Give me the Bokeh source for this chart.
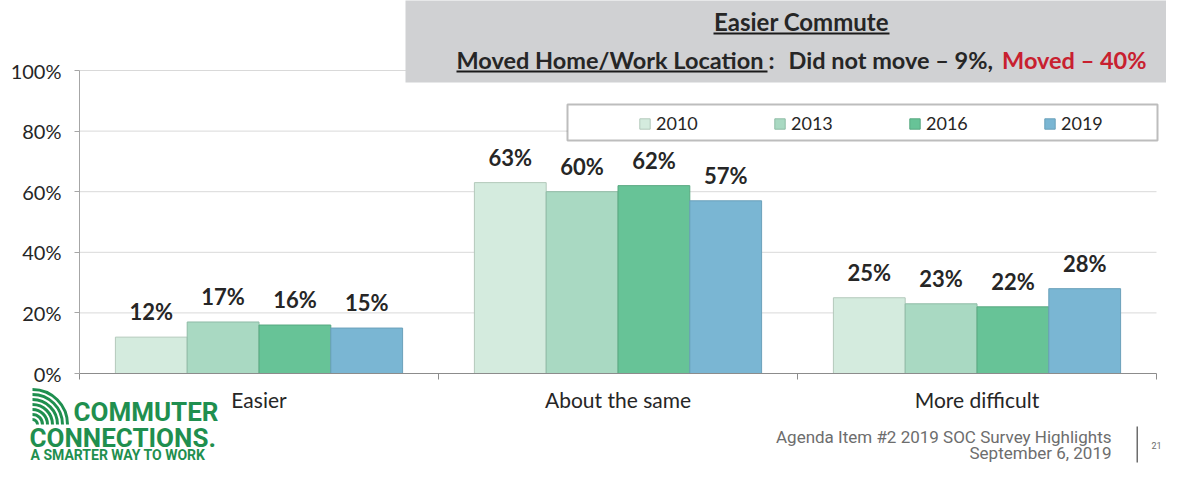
from bokeh.plotting import figure
from bokeh.models import (Range1d, ColumnDataSource, Label, BoxAnnotation, Legend, LegendItem,
                          FixedTicker, LinearAxis)
from bokeh.core.properties import value
from bokeh.embed import file_html
from bokeh.resources import INLINE

# ---------------- data ----------------
categories = ["Easier", "About the same", "More difficult"]
years = ["2010", "2013", "2016", "2019"]
v2010 = [12, 63, 25]
v2013 = [17, 60, 23]
v2016 = [16, 62, 22]
v2019 = [15, 57, 28]
series = [v2010, v2013, v2016, v2019]
colors = ["#d4ebde", "#a9d9c2", "#67c397", "#7ab6d3"]
edges = ["#b3c9bb", "#8fbca6", "#58a880", "#6aa0ba"]
yticks = [0, 20, 40, 60, 80, 100]
ytick_labels = ["0%", "20%", "40%", "60%", "80%", "100%"]

title_line1 = "Easier Commute"
title_a = "Moved Home/Work Location"
title_colon = ":"
title_b = "Did not move \u2013 9%,"
title_c = "Moved \u2013 40%"
logo1 = "COMMUTER"
logo2 = "CONNECTIONS."
logo3 = "A SMARTER WAY TO WORK"
footer1 = "Agenda Item #2 2019 SOC Survey Highlights"
footer2 = "September 6, 2019"
page_no = "21"

FONT = "Lato"
INK = "#262626"

# ---------------- layout constants (pixels) ----------------
W, H = 1166, 464
X0, XW = 79, 359.0      # pixel of first category edge, pixels per category
Y0, YS = 373, 3.03      # pixel of 0 %, pixels per percent

n = len(categories)
p = figure(width=W, height=H, output_backend="svg", toolbar_location=None,
           x_range=Range1d(-X0 / XW, (W - X0) / XW),
           y_range=Range1d(-(H - Y0) / YS, Y0 / YS),
           x_axis_location=None, y_axis_location=None, min_border=0)
p.outline_line_color = None
p.background_fill_color = "white"
p.border_fill_color = "white"
p.grid.visible = False

# grid lines
p.segment(x0=[0] * len(yticks[1:]), x1=[n] * len(yticks[1:]), y0=yticks[1:], y1=yticks[1:],
          line_color="#d9d9d9", line_width=1)

# axes
yax = LinearAxis(fixed_location=0, ticker=FixedTicker(ticks=yticks), bounds=(0, 100))
yax.major_label_overrides = {t: l for t, l in zip(yticks, ytick_labels)}
yax.axis_line_color = "#a6a6a6"
yax.major_tick_line_color = "#a6a6a6"
yax.major_tick_out = 5
yax.major_tick_in = 0
yax.minor_tick_line_color = None
yax.major_label_standoff = 13
yax.major_label_text_font = FONT
yax.major_label_text_font_size = "20px"
yax.major_label_text_color = INK
p.add_layout(yax, "left")

centers = [i + 0.5 for i in range(n)]
xax = LinearAxis(fixed_location=0, bounds=(0, n),
                 ticker=FixedTicker(ticks=centers, minor_ticks=list(range(n + 1))))
xax.major_label_overrides = {c: cat for c, cat in zip(centers, categories)}
xax.axis_line_color = "#8c8c8c"
xax.major_tick_line_color = None
xax.minor_tick_line_color = "#8c8c8c"
xax.minor_tick_out = 6
xax.minor_tick_in = 0
xax.major_label_standoff = 7
xax.major_label_text_font = FONT
xax.major_label_text_font_size = "21px"
xax.major_label_text_color = INK
p.add_layout(xax, "below")

# bars and value labels
offsets = [-0.3, -0.1, 0.1, 0.3]
renderers = []
for y, s, off, c, e in zip(years, series, offsets, colors, edges):
    src = ColumnDataSource(dict(x=[ctr + off for ctr in centers], top=s,
                                lab=[f"{v}%" for v in s]))
    r = p.vbar(x="x", top="top", width=0.2, source=src,
               fill_color=c, line_color=e, line_width=1)
    renderers.append(r)
    p.text(x="x", y="top", text="lab", source=src,
           text_align="center", text_baseline="bottom", y_offset=-12,
           text_font=value(FONT), text_font_style="bold", text_font_size="22px",
           text_color=INK)


def sy(Y):
    return H - Y


def box(l, r, t, b, color, line=None, lw=1):
    p.add_layout(BoxAnnotation(left=l, right=r, top=sy(t), bottom=sy(b),
                               left_units="screen", right_units="screen",
                               top_units="screen", bottom_units="screen",
                               fill_color=color, fill_alpha=1 if color else 0,
                               line_color=line, line_width=lw, level="overlay"))


def lab(text, X, Y, size, color=INK, align="left", style="bold", font=FONT):
    p.add_layout(Label(x=X, y=sy(Y), x_units="screen", y_units="screen", text=text,
                       text_align=align, text_baseline="middle", text_font=font,
                       text_font_style=style, text_font_size=size, text_color=color,
                       level="overlay"))


# legend
box(567, 1157, 104, 140, "white", line="#262626", lw=2)
legend = Legend(items=[LegendItem(label=y, renderers=[r]) for y, r in zip(years, renderers)],
                orientation="horizontal", location=(638, sy(134)),
                padding=2, margin=0, spacing=17, glyph_width=13, glyph_height=13,
                label_width=100, label_height=20, label_standoff=5,
                label_text_font=FONT, label_text_font_size="18px", label_text_color=INK,
                border_line_color=None, background_fill_alpha=0)
p.add_layout(legend)

# title box
box(405, 1200, -20, 82, "#d0d1d3")
lab(title_line1, 801, 21, "24px", align="center")
box(713, 889, 32, 34, "#1a1a1a")
lab(title_a, 456, 59, "23.5px")
box(456, 767, 70, 72, "#1a1a1a")
lab(title_colon, 768, 59, "23.5px")
lab(title_b, 788, 59, "23.5px")
lab(title_c, 1146, 59, "23.5px", color="#c8202f", align="right")

# logo
GREEN = "#1f8f4f"
lab(logo1, 73, 411, "26px", color=GREEN, font="Roboto")
lab(logo2, 29, 437, "26px", color=GREEN, font="Roboto")
lab(logo3, 30, 454, "14px", color=GREEN, font="Roboto")
r_icon = [5, 10, 15, 20, 25, 30, 35]
p.arc(x=[(32 - X0) / XW] * len(r_icon), y=[(Y0 - 424) / YS] * len(r_icon),
      radius=r_icon, radius_units="screen", start_angle=0, end_angle=1.5708,
      line_color=GREEN, line_width=3)

# footer
GREY = "#6d6d6d"
lab(footer1, 1111, 436, "17px", color=GREY, align="right", style="normal", font="Roboto")
lab(footer2, 1111, 452, "17px", color=GREY, align="right", style="normal", font="Roboto")
box(1136, 1137.5, 426, 462, GREY)
lab(page_no, 1156, 445, "9px", color=GREY, align="center", style="normal", font="Roboto")

open("out.html", "w").write(file_html(p, INLINE))
